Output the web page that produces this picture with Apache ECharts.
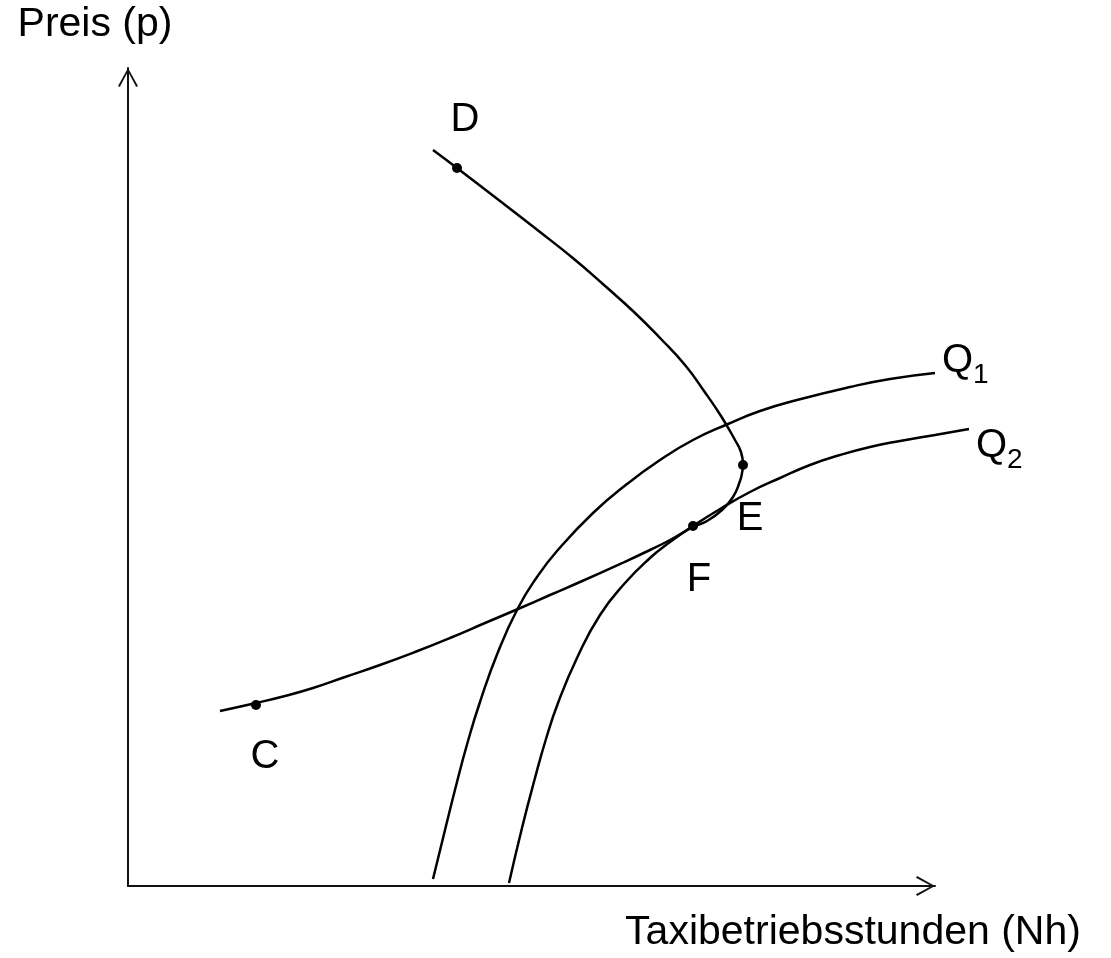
<!DOCTYPE html>
<html><head><meta charset="utf-8">
<script src="https://cdn.jsdelivr.net/npm/echarts@6/dist/echarts.min.js"></script>
<style>html,body{margin:0;padding:0;background:#fff}#c{width:1111px;height:958px}</style>
</head><body><div id="c"></div>
<script>
// Axis titles
const xTitle = 'Taxibetriebsstunden (Nh)';
const yTitle = 'Preis (p)';

// Backward-bending curve D - E - F - C  (x = hours, y = price, arbitrary units)
const supplyCurve = [
  [305,735],[329,717],[372,684],[412,653],[446,626],[476,600],[506,573],
  [533,546],[557,520],[576,494],[593,469],[607,445],[613,433],[615,420],
  [614,412],[612,404],[605,388],[594,375],[579,364],[565,358],[542,345],
  [522,335],[492,321],[452,303],[422,290],[390,276],[357,262],[322,247],
  [287,233],[252,220],[217,208],[185,197],[157,189],[128,182],[92,174]
];
// Curve Q1
const q1Curve = [
  [305,6],[317,55],[329,103],[340,144],[352,183],[370,233],[390,277],
  [409,308],[429,334],[465,372],[499,401],[532,425],[565,445],[600,461],
  [632,474],[669,485],[722,498],[762,506],[807,512]
];
// Curve Q2
const q2Curve = [
  [381,2],[394,57],[407,107],[418,146],[430,182],[449,227],[472,270],
  [497,302],[522,327],[542,343],[565,359],[592,376],[622,393],[652,407],
  [682,420],[712,430],[742,438],[772,444],[807,450],[841,456]
];
const curveNames = ['Q1','Q2'];
// Marked points
const pointNames = ['D','E','F','C'];
const pointValues = [[329,717],[615,420],[565,359],[128,180]];

const FONT = '"Liberation Sans", Arial, Helvetica, sans-serif';
const INK = '#000';
const arrowPath = 'path://M10 0 L20 18 L18.3 19.1 L10 3.6 L1.7 19.1 L0 18 Z';
const labelOffsets = { D: [8,-48], E: [7,54], F: [6,54], C: [9,52] };
const curveLabelOffsets = { Q1: [0,2], Q2: [0,31] };

const chart = echarts.init(document.getElementById('c'));

function visibleAxis(name, extra) {
  return Object.assign({
    type: 'value', gridIndex: 0,
    name: name,
    nameLocation: 'end',
    axisLine: {
      show: true, onZero: false,
      lineStyle: { color: '#111', width: 2 },
      symbol: ['none', arrowPath],
      symbolSize: [20, 19],
      symbolOffset: [0, -9.5]
    },
    axisTick: { show: false },
    axisLabel: { show: false },
    splitLine: { show: false }
  }, extra);
}
function hiddenAxis(extra) {
  return Object.assign({
    type: 'value', gridIndex: 1, show: false,
    axisLine: { show: false }, axisTick: { show: false },
    axisLabel: { show: false }, splitLine: { show: false }
  }, extra);
}

function curveSeries(data, name) {
  return {
    type: 'line',
    name: name,
    xAxisIndex: 1, yAxisIndex: 1,
    data: data,
    smooth: 0.5,
    showSymbol: false,
    clip: false,
    silent: true,
    lineStyle: { color: INK, width: 2.5 }
  };
}

const curves = [q1Curve, q2Curve];

const option = {
  animation: false,
  backgroundColor: '#fff',
  grid: [
    // visible axes: x from 0 to 807, y from -1 to 817 (1 unit = 1 px)
    { left: 128, right: 176, top: 68, bottom: 72 },
    // plotting grid with the same scale, wider so curves may pass the arrow tip
    { left: 128, right: 83, top: 68, bottom: 72 }
  ],
  xAxis: [
    visibleAxis(xTitle, {
      min: 0, max: 807,
      nameGap: -82,
      nameTextStyle: { fontFamily: FONT, fontSize: 41, color: INK, align: 'center', verticalAlign: 'top', padding: [26, 0, 0, 0] }
    }),
    hiddenAxis({ min: 0, max: 900 })
  ],
  yAxis: [
    visibleAxis(yTitle, {
      min: -1, max: 817,
      nameGap: 23,
      nameTextStyle: { fontFamily: FONT, fontSize: 41, color: INK, align: 'center', verticalAlign: 'bottom', padding: [0, 66, 0, 0] }
    }),
    hiddenAxis({ min: -1, max: 817 })
  ],
  series: [
    curveSeries(supplyCurve, 'S'),
    curveSeries(q1Curve, curveNames[0]),
    curveSeries(q2Curve, curveNames[1]),
    {
      // curve name labels at the end of each Q curve
      type: 'scatter',
      xAxisIndex: 1, yAxisIndex: 1,
      silent: true,
      clip: false,
      symbolSize: 0,
      itemStyle: { opacity: 1, color: INK },
      data: curveNames.map((n, i) => ({
        name: n,
        value: curves[i][curves[i].length - 1],
        label: {
          show: true, position: 'right', distance: 7,
          offset: curveLabelOffsets[n],
          formatter: p => '{q|' + p.name.charAt(0) + '}{s|' + p.name.slice(1) + '}',
          rich: {
            q: { fontFamily: FONT, fontSize: 40, lineHeight: 40, verticalAlign: 'top', color: INK },
            s: { fontFamily: FONT, fontSize: 28, lineHeight: 68, color: INK }
          }
        }
      }))
    },
    {
      type: 'scatter',
      xAxisIndex: 1, yAxisIndex: 1,
      silent: true,
      clip: false,
      symbolSize: 10,
      itemStyle: { color: INK, opacity: 1 },
      z: 5,
      data: pointNames.map((n, i) => ({
        name: n,
        value: pointValues[i],
        label: {
          show: true, position: 'inside', formatter: '{b}',
          offset: labelOffsets[n],
          fontFamily: FONT, fontSize: 40, color: INK, opacity: 1
        }
      }))
    }
  ]
};
chart.setOption(option);
</script>
</body></html>
